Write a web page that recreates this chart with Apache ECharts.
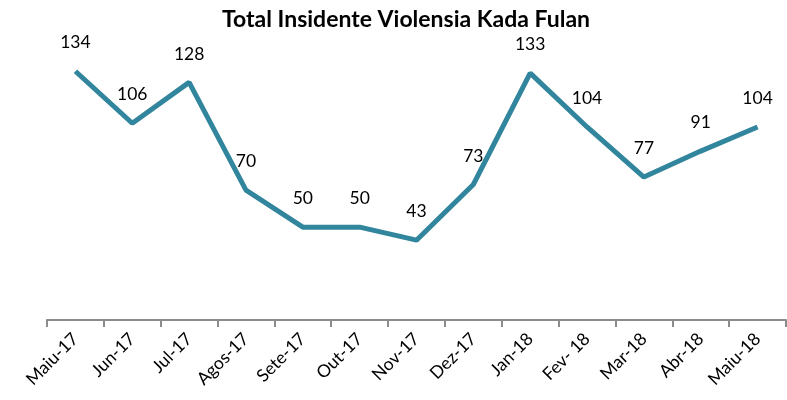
<!DOCTYPE html>
<html>
<head>
<meta charset="utf-8">
<script src="https://cdn.jsdelivr.net/npm/echarts@6/dist/echarts.min.js"></script>
<style>
  html, body { margin: 0; padding: 0; background: #fff; }
  #chart { width: 787px; height: 400px; }
</style>
</head>
<body>
<div id="chart"></div>
<script>
const months = ['Maiu-17', 'Jun-17', 'Jul-17', 'Agos-17', 'Sete-17', 'Out-17', 'Nov-17',
  'Dez-17', 'Jan-18', 'Fev- 18', 'Mar-18', 'Abr-18', 'Maiu-18'];
const incidents = [134, 106, 128, 70, 50, 50, 43, 73, 133, 104, 77, 91, 104];

const chart = echarts.init(document.getElementById('chart'));
chart.setOption({
  animation: false,
  title: {
    text: 'Total Insidente Violensia Kada Fulan',
    left: 217,
    top: 3,
    textStyle: { fontFamily: 'Lato', fontWeight: 'bold', fontSize: 23, color: '#000' }
  },
  grid: { left: 47, right: 1, top: 23, height: 297 },
  xAxis: {
    type: 'category',
    data: months,
    boundaryGap: true,
    axisLine: { lineStyle: { color: '#8c8c8c', width: 2 } },
    axisTick: { show: true, length: 7, lineStyle: { color: '#8c8c8c', width: 2 } },
    axisLabel: {
      rotate: 45,
      interval: 0,
      margin: 16,
      color: '#000',
      fontFamily: 'Lato',
      fontSize: 17.5
    }
  },
  yAxis: {
    type: 'value',
    min: 0,
    max: 160,
    show: false,
    splitLine: { show: false }
  },
  series: [{
    type: 'line',
    data: incidents,
    symbol: 'circle',
    symbolSize: 1,
    showSymbol: true,
    lineStyle: { color: '#31859c', width: 5 },
    itemStyle: { color: 'rgba(0,0,0,0)', borderWidth: 0 },
    label: {
      show: true,
      position: 'top',
      distance: 19,
      color: '#000',
      fontFamily: 'Lato',
      fontSize: 17.5
    }
  }]
});
</script>
</body>
</html>
